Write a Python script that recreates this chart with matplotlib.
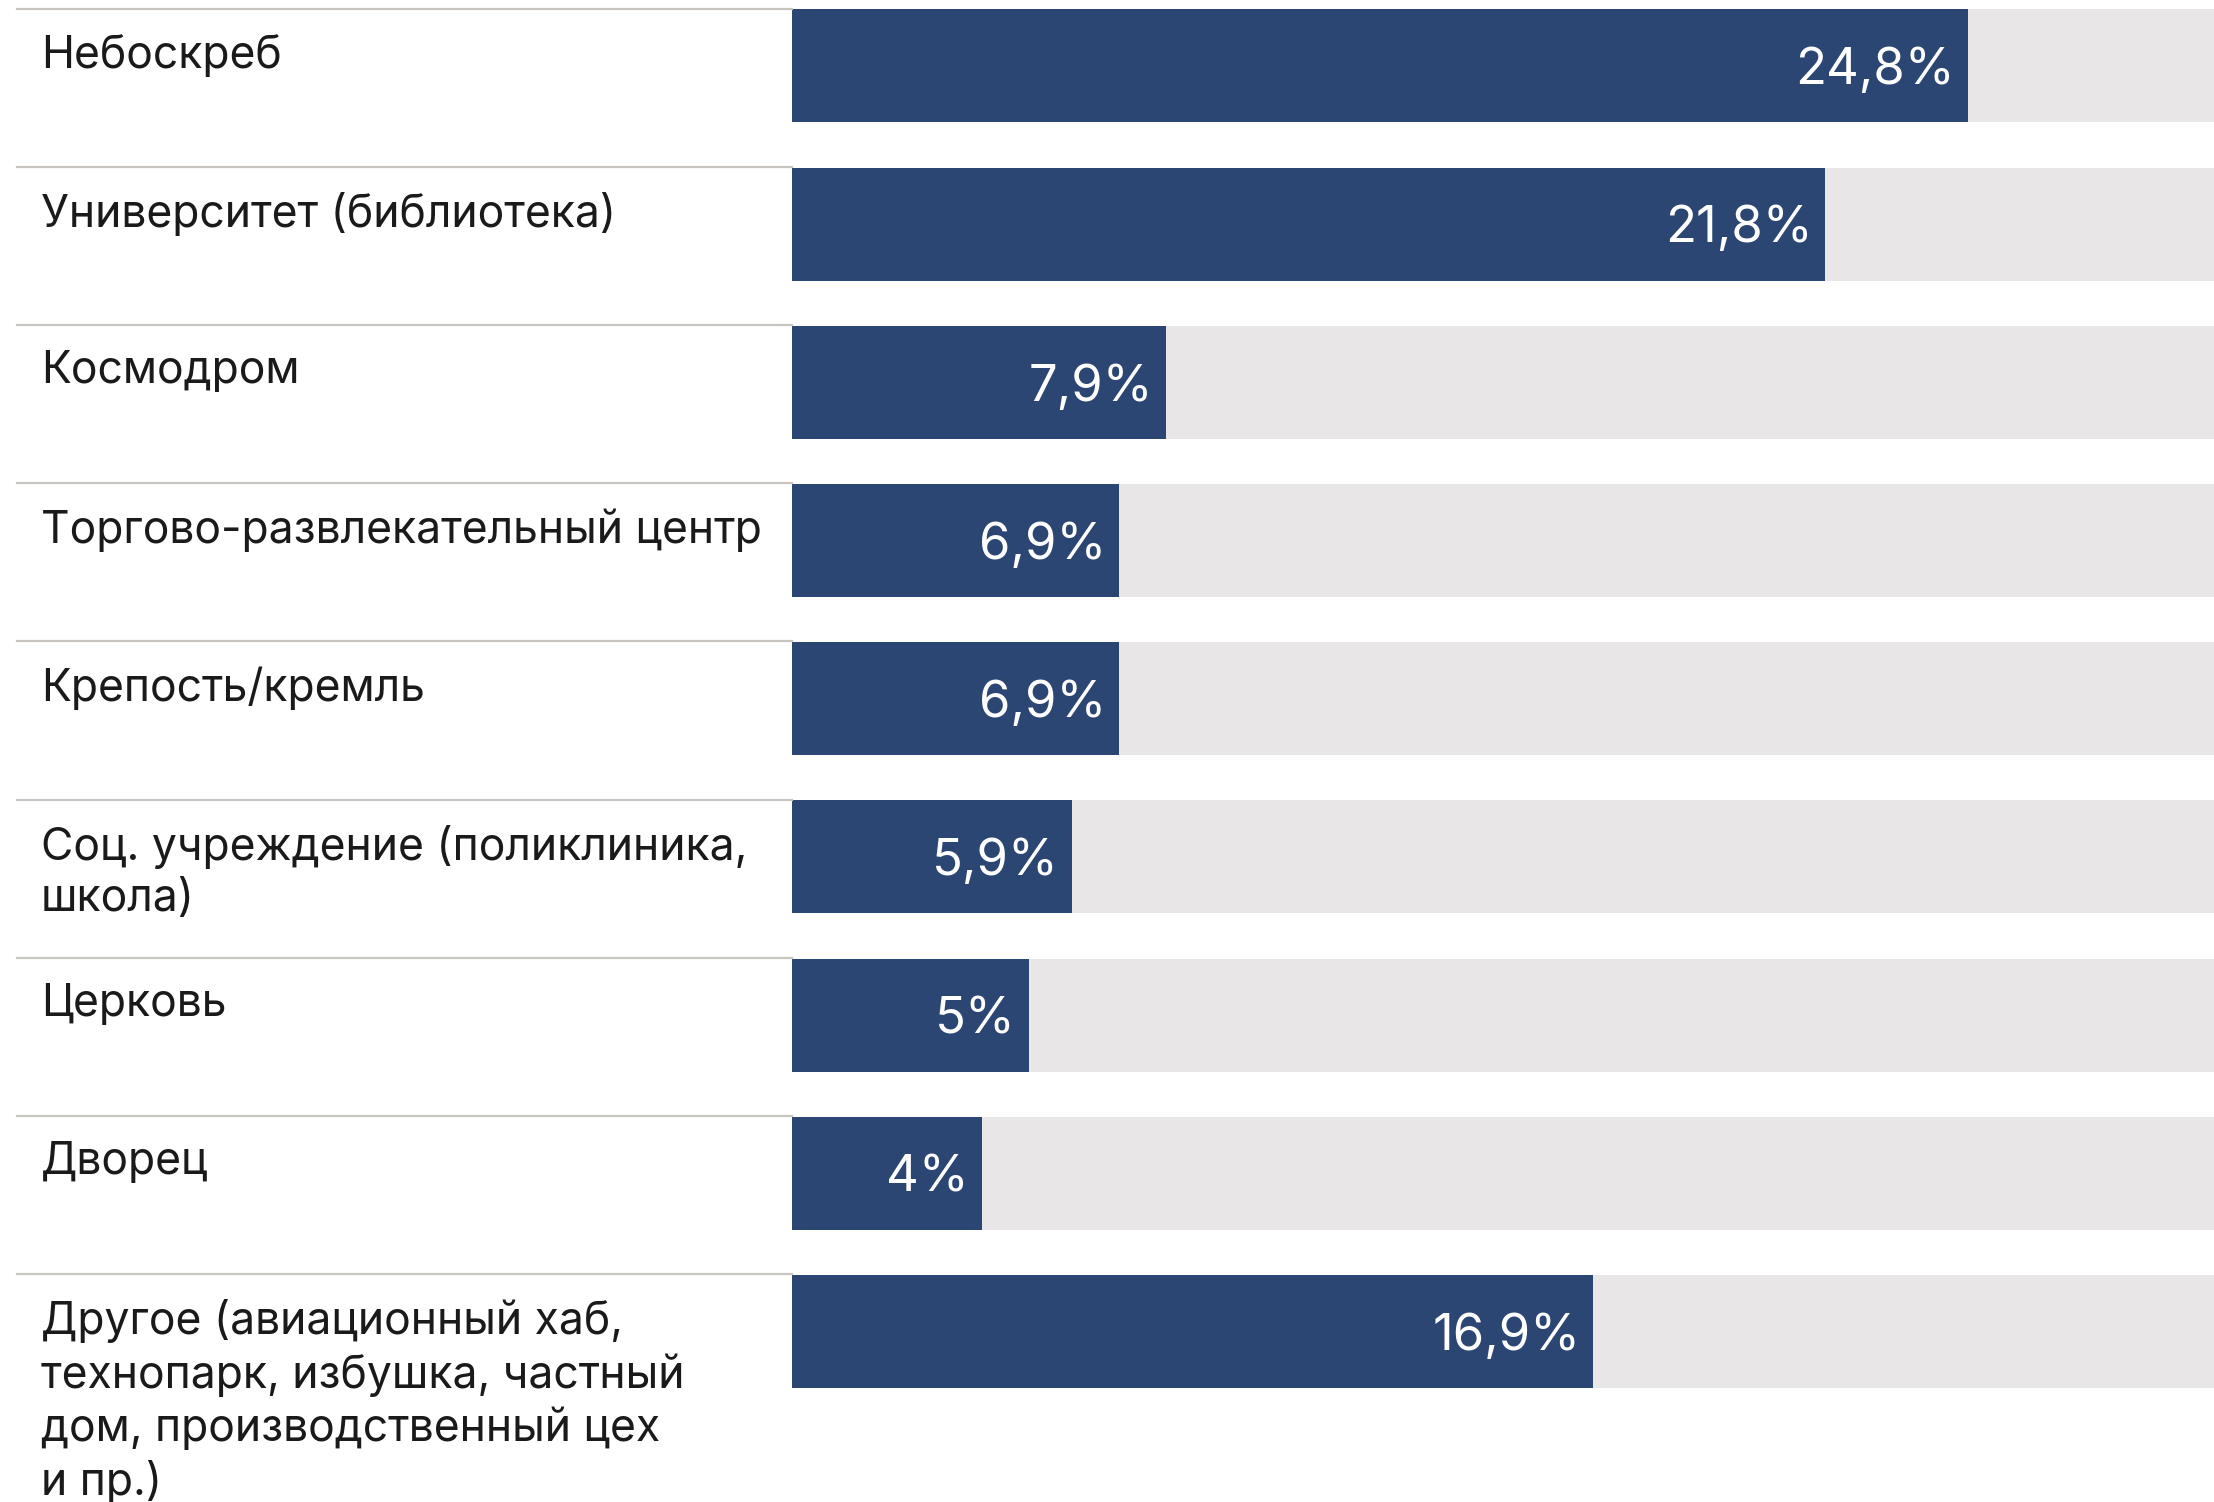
import matplotlib.pyplot as plt

plt.rcParams['font.family'] = ['Inter', 'DejaVu Sans']

categories = [
    "Небоскреб",
    "Университет (библиотека)",
    "Космодром",
    "Торгово-развлекательный центр",
    "Крепость/кремль",
    "Соц. учреждение (поликлиника,\nшкола)",
    "Церковь",
    "Дворец",
    "Другое (авиационный хаб,\nтехнопарк, избушка, частный\nдом, производственный цех\nи пр.)",
]
values = [24.8, 21.8, 7.9, 6.9, 6.9, 5.9, 5.0, 4.0, 16.9]
value_labels = ["24,8%", "21,8%", "7,9%", "6,9%", "6,9%", "5,9%", "5%", "4%", "16,9%"]

W, H, DPI = 2214, 1502, 200
fig = plt.figure(figsize=(W / DPI, H / DPI), dpi=DPI)

# bars area starts at x=792 px and runs to the right edge (0..30 %)
x0 = 792
pitch = 158.2
top_off = 8.5
ax = fig.add_axes([x0 / W, 0, 1 - x0 / W, 1])
ax.set_xlim(0, 30)
ax.set_ylim(H / pitch - top_off / pitch, -top_off / pitch)
ax.axis('off')

blue = '#2c4674'
grey = '#e8e6e7'
bar_h = 113 / pitch
ytr = ax.get_yaxis_transform()

for i, (cat, v, lab) in enumerate(zip(categories, values, value_labels)):
    yc = i + 0.006 + bar_h / 2
    ax.barh(yc, 30, height=bar_h, left=0, color=grey, zorder=1)
    ax.barh(yc, v, height=bar_h, left=0, color=blue, zorder=2)
    ax.text(v - 0.27, yc + 0.03, lab, ha='right', va='center',
            color='white', fontsize=18.3, zorder=3)
    # separator line on the label side
    ax.plot([(17 - x0) / (W - x0), 0], [i, i], transform=ytr,
            color='#c8c4c0', lw=0.8, clip_on=False, zorder=3)
    ax.text((41 - x0) / (W - x0), i + 0.16, cat, transform=ytr,
            ha='left', va='top', color='#1a1a1a', fontsize=16,
            linespacing=1.28, clip_on=False)

fig.savefig('out.png', dpi=DPI)
